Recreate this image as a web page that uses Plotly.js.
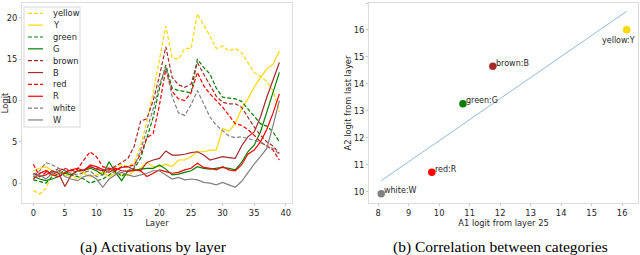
<!DOCTYPE html>
<html>
<head>
<meta charset="utf-8">
<script src="https://cdn.plot.ly/plotly-3.0.1.min.js"></script>
<style>html,body{margin:0;padding:0;background:#fff;}#chart{width:640px;height:255px;}</style>
</head>
<body>
<div id="chart"></div>
<script>
// ---------- Data: (a) activations by layer ----------
const layers = [0,1,2,3,4,5,6,7,8,9,10,11,12,13,14,15,16,17,18,19,20,21,22,23,24,25,26,27,28,29,30,31,32,33,34,35,36,37,38,39];

const yellowDashed = [-0.9,-1.3,-0.6,1.0,1.5,1.2,1.0,0.5,1.2,1.8,1.5,1.0,1.5,2.0,2.3,2.0,2.5,4.5,7.5,11.0,15.0,19.0,15.2,15.0,16.3,16.3,20.5,19.2,17.8,16.3,16.6,16.0,16.3,15.8,14.6,13.4,12.9,12.3,11.2,8.6];
const yellowSolid  = [1.5,1.8,2.0,1.5,1.2,1.0,0.8,1.5,1.2,0.8,1.0,1.3,0.8,1.2,1.0,0.9,1.5,1.8,2.5,2.0,2.0,2.3,2.0,2.8,2.8,3.2,3.8,3.8,4.0,4.0,6.6,6.3,7.2,9.0,10.2,11.6,12.8,13.8,14.4,16.0];
const greenDashed  = [0.4,0.2,0.0,0.8,1.2,1.5,1.0,0.8,0.5,0.0,0.3,0.5,1.0,1.5,0.8,1.5,1.8,3.0,5.5,8.0,11.5,14.3,11.5,11.2,11.1,10.9,15.0,14.0,13.2,11.5,10.4,10.3,10.2,9.9,9.0,8.0,7.2,6.9,6.2,5.0];
const greenSolid   = [0.8,0.5,0.3,0.5,0.8,1.2,1.0,1.5,1.5,1.8,1.5,1.0,2.6,1.3,0.3,1.5,1.5,1.7,1.8,1.8,2.2,1.7,1.0,1.1,1.3,1.5,2.0,1.8,1.7,1.8,1.9,1.8,1.6,2.5,3.8,4.6,6.2,8.6,11.0,13.4];
const brownDashed  = [1.0,1.2,1.5,1.3,1.8,1.6,1.5,1.4,1.6,2.0,1.8,1.5,1.6,2.0,2.5,3.0,4.5,7.5,7.8,10.0,13.0,16.5,12.8,11.9,11.6,12.0,14.6,13.2,11.8,10.5,9.8,9.6,9.6,9.2,8.0,6.8,5.8,5.0,4.5,3.6];
const brownSolid   = [1.2,0.8,1.0,1.5,1.2,-0.4,1.0,1.5,1.6,2.0,1.7,1.5,1.8,1.6,1.9,2.0,1.6,1.5,2.5,2.8,3.0,3.9,3.4,3.4,3.5,3.7,3.8,3.4,2.8,3.0,3.2,3.1,3.0,4.5,5.6,6.2,8.0,10.4,12.5,14.6];
const redDashed    = [2.3,0.8,1.3,1.0,1.5,1.8,1.5,1.7,2.8,3.8,3.2,2.0,1.8,1.5,2.0,2.0,2.2,3.5,5.5,6.0,9.5,13.8,11.1,10.2,10.0,10.9,13.4,11.8,10.8,10.0,9.2,8.2,7.2,7.0,6.5,5.8,5.0,4.5,4.0,2.8];
const redSolid     = [0.5,1.2,1.5,1.0,0.8,1.3,1.6,1.8,1.5,2.2,2.0,1.6,1.3,1.8,1.5,1.4,1.6,1.5,0.8,1.2,1.6,1.4,1.2,1.3,1.6,1.8,2.4,1.9,1.8,1.6,2.0,1.6,1.5,2.2,3.5,4.0,5.0,6.5,8.5,10.8];
const whiteDashed  = [1.0,1.5,2.5,2.2,1.8,1.5,1.2,1.0,1.3,1.5,0.8,1.0,1.5,1.2,1.5,1.5,2.0,4.0,6.5,9.0,12.0,14.0,10.5,8.5,8.2,9.5,11.2,9.5,8.0,7.0,6.3,5.7,5.5,5.6,5.4,5.2,4.9,4.5,4.2,3.5];
const whiteSolid   = [0.8,1.0,0.5,1.2,1.5,0.8,0.5,0.3,0.8,1.0,0.5,-0.5,0.5,1.0,1.3,1.0,0.8,1.0,1.2,1.5,1.5,1.0,0.5,0.7,0.4,0.5,0.4,0.1,0.0,-0.2,0.1,-0.2,-0.5,0.2,1.3,2.3,3.2,4.2,7.0,10.0];

const seriesNames = ['yellow','Y','green','G','brown','B','red','R','white','W'];

// ---------- Data: (b) correlation ----------
const scatterLabels = ['white:W','red:R','green:G','brown:B','yellow:Y'];
const a1Logit = [8.10, 9.76, 10.78, 11.76, 16.15];
const a2Logit = [9.93, 10.73, 13.27, 14.66, 16.01];

const xTicksA = [0,5,10,15,20,25,30,35,40];
const yTicksA = [0,5,10,15,20];
const xTicksB = [8,9,10,11,12,13,14,15,16];
const yTicksB = [10,11,12,13,14,15,16,17];

// ---------- Styles ----------
const GOLD = '#FFD700', GREEN = '#008000', BROWN = '#A52A2A', RED = '#FF0000', GRAY = '#808080';
const DASH = '4px,2px';
const seriesData = [yellowDashed, yellowSolid, greenDashed, greenSolid, brownDashed, brownSolid, redDashed, redSolid, whiteDashed, whiteSolid];
const seriesColor = [GOLD, GOLD, GREEN, GREEN, BROWN, BROWN, RED, RED, GRAY, GRAY];
const seriesDash = [DASH,'solid',DASH,'solid',DASH,'solid',DASH,'solid',DASH,'solid'];

const traces = [];
seriesData.forEach((ys, i) => {
  traces.push({
    type: 'scatter', mode: 'lines', x: layers, y: ys, name: seriesNames[i],
    xaxis: 'x', yaxis: 'y', showlegend: false,
    line: {color: seriesColor[i], width: 1.2, dash: seriesDash[i]}
  });
});

// regression line from scatter data
const n = a1Logit.length;
const mx = a1Logit.reduce((s,v)=>s+v,0)/n;
const my = a2Logit.reduce((s,v)=>s+v,0)/n;
let sxy = 0, sxx = 0;
for (let i=0;i<n;i++){ sxy += (a1Logit[i]-mx)*(a2Logit[i]-my); sxx += (a1Logit[i]-mx)**2; }
const slope = sxy/sxx, icpt = my - slope*mx;
const xMin = Math.min(...a1Logit), xMax = Math.max(...a1Logit);
traces.push({
  type:'scatter', mode:'lines', x:[xMin,xMax], y:[icpt+slope*xMin, icpt+slope*xMax],
  xaxis:'x2', yaxis:'y2', showlegend:false, line:{color:'rgba(31,119,180,0.5)', width:1}
});
traces.push({
  type:'scatter', mode:'markers', x:a1Logit, y:a2Logit, text:scatterLabels,
  xaxis:'x2', yaxis:'y2', showlegend:false, cliponaxis:false,
  marker:{size:7.5, color:[GRAY, RED, GREEN, BROWN, GOLD]}
});

const W = 640, H = 255;
const px = v => v / W;
const py = v => 1 - v / H;

const FONT = 'DejaVu Sans';
const tickFont = {family: FONT, size: 8.3, color: '#262626'};
const titleFont = {family: FONT, size: 8.3, color: '#262626'};
const frame = '#dcdcdc';

const shapes = [];
const annotations = [];

// custom legend (inside left plot)
shapes.push({type:'rect', xref:'paper', yref:'paper', x0:px(24), x1:px(80), y0:py(127), y1:py(7),
  line:{color:'#d8d8d8', width:1}, fillcolor:'rgba(255,255,255,0.85)', layer:'above'});
seriesNames.forEach((nm, i) => {
  const yc = 13.3 + 11.85*i;
  shapes.push({type:'line', xref:'paper', yref:'paper', x0:px(28), x1:px(43), y0:py(yc), y1:py(yc),
    line:{color:seriesColor[i], width:1.2, dash:seriesDash[i]}, layer:'above'});
  annotations.push({xref:'paper', yref:'paper', x:px(50.5), y:py(yc), xanchor:'left', yanchor:'middle',
    text:nm, showarrow:false, font:{family:FONT, size:8.3, color:'#262626'}});
});

// scatter point labels
scatterLabels.forEach((lab, i) => {
  const last = i === scatterLabels.length - 1;
  annotations.push({xref:'x2', yref:'y2', x:a1Logit[i], y:a2Logit[i], text:lab, showarrow:false,
    xanchor: last ? 'center' : 'left', yanchor: last ? 'top' : 'middle',
    xshift: last ? -8 : 1, yshift: last ? -4 : 3,
    font:{family:FONT, size:8, color:'#262626'}});
});

// captions
annotations.push({xref:'paper', yref:'paper', x:px(153), y:py(246.5), xanchor:'center', yanchor:'middle',
  text:'(a) Activations by layer', showarrow:false, font:{family:'Liberation Serif', size:15.5, color:'#000'}});
annotations.push({xref:'paper', yref:'paper', x:px(500), y:py(246.5), xanchor:'center', yanchor:'middle',
  text:'(b) Correlation between categories', showarrow:false, font:{family:'Liberation Serif', size:15.5, color:'#000'}});

const axisCommon = {
  showgrid:false, zeroline:false, showline:true, mirror:true, linecolor:frame, linewidth:1,
  ticks:'outside', ticklen:2, tickcolor:'#c8c8c8', tickfont:tickFont, automargin:false
};

const layout = {
  width: W, height: H, margin:{l:0, r:0, t:0, b:0},
  paper_bgcolor:'#fff', plot_bgcolor:'#fff', showlegend:false,
  xaxis: Object.assign({}, axisCommon, {domain:[px(22), px(292)], range:[-1.8, 41.0], tickvals:xTicksA,
    title:{text:'Layer', font:titleFont, standoff:1}, anchor:'y'}),
  yaxis: Object.assign({}, axisCommon, {domain:[py(203), py(3)], range:[-2.4, 21.8], tickvals:yTicksA,
    title:{text:'Logit', font:titleFont, standoff:2}, anchor:'x'}),
  xaxis2: Object.assign({}, axisCommon, {domain:[px(369), px(638)], range:[7.7, 16.52], tickvals:xTicksB,
    title:{text:'A1 logit from layer 25', font:titleFont, standoff:1}, anchor:'y2'}),
  yaxis2: Object.assign({}, axisCommon, {domain:[py(203), py(3)], range:[9.59, 17.0], tickvals:yTicksB,
    title:{text:'A2 logit from last layer', font:titleFont, standoff:0}, anchor:'x2'}),
  shapes: shapes,
  annotations: annotations
};

Plotly.newPlot('chart', traces, layout, {staticPlot:true, displayModeBar:false});
</script>
</body>
</html>
